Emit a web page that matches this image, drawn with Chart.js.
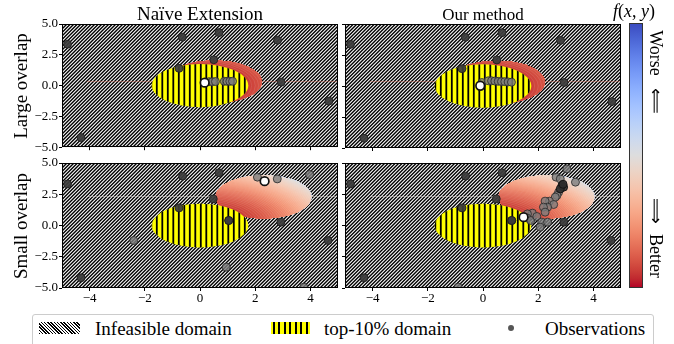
<!DOCTYPE html>
<html><head><meta charset="utf-8">
<script src="https://cdn.jsdelivr.net/npm/chart.js@4.4.1/dist/chart.umd.min.js"></script>
<style>
html,body{margin:0;padding:0;background:#fff;}
#wrap{position:relative;width:674px;height:344px;overflow:hidden;font-family:"Liberation Serif","Times New Roman",serif;color:#000;}
canvas{position:absolute;}
.t{position:absolute;white-space:nowrap;line-height:1;}
</style></head><body><div id="wrap">
<canvas id="c1" width="340" height="142" style="left:0;top:14px"></canvas>
<canvas id="c2" width="284" height="142" style="left:339px;top:14px"></canvas>
<canvas id="c3" width="340" height="159" style="left:0;top:153px"></canvas>
<canvas id="c4" width="284" height="159" style="left:339px;top:153px"></canvas>

<div class="t" style="left:200px;top:3.8px;font-size:19px;transform:translateX(-50%)">Naïve Extension</div>
<div class="t" style="left:483px;top:5.5px;font-size:17px;transform:translateX(-50%)">Our method</div>
<div class="t" style="left:634px;top:2px;font-size:18px;transform:translateX(-50%)"><i>f</i>(<i>x</i>, <i>y</i>)</div>
<div class="t" style="left:19.5px;top:86px;font-size:19px;transform:translate(-50%,-50%) rotate(-90deg)">Large overlap</div>
<div class="t" style="left:19.5px;top:225.5px;font-size:19px;transform:translate(-50%,-50%) rotate(-90deg)">Small overlap</div>

<div id="cbar" style="position:absolute;left:629px;top:23px;width:14px;height:265px;box-sizing:border-box;border:1px solid #333;"></div>
<div class="t" style="left:656px;top:53px;font-size:18px;transform:translate(-50%,-50%) rotate(90deg)">Worse</div>
<div class="t" style="left:656px;top:101px;font-size:18px;transform:translate(-50%,-50%) rotate(90deg)">⟸</div>
<div class="t" style="left:656px;top:211px;font-size:18px;transform:translate(-50%,-50%) rotate(90deg)">⟹</div>
<div class="t" style="left:656px;top:255.5px;font-size:18px;transform:translate(-50%,-50%) rotate(90deg)">Better</div>

<div style="position:absolute;left:32px;top:314px;width:622px;height:40px;box-sizing:border-box;border:1px solid #ccc;border-radius:3px;"></div>
<div style="position:absolute;left:39px;top:322px;width:41px;height:12px;background:repeating-linear-gradient(45deg,#000 0 1.2px,#fff 1.2px 2.3px);"></div>
<div class="t" style="left:95px;top:319px;font-size:19px">Infeasible domain</div>
<div style="position:absolute;left:271px;top:322px;width:39px;height:12px;background:repeating-linear-gradient(90deg,#ff0 0 1.9px,#000 1.9px 3.7px,#ff0 3.7px 5.5px);"></div>
<div class="t" style="left:324px;top:319px;font-size:19px">top-10% domain</div>
<div style="position:absolute;left:508px;top:325px;width:6px;height:6px;border-radius:50%;background:#555;"></div>
<div class="t" style="left:545px;top:319px;font-size:19px">Observations</div>
</div>
<script>
// ---------- data ----------
const xTickValues = [-4, -2, 0, 2, 4];
const yTickValues = [-5, -2.5, 0, 2.5, 5];
const axisMin = -5, axisMax = 5;

const top10Center = [0, 0];
const top10Radius = 1.75;
const largeOverlapCenter = [0.51, 0.31];
const smallOverlapCenter = [2.30, 2.29];
const feasibleRadius = 1.73;
// f(x,y) = x^2 + y^2, contour levels
const fMin = 0, fMax = 50, fStep = 0.5;

// initial observations
const largeInitX = [-4.80, -4.31, -0.64, 0.69, 0.50, -0.76, 2.81, 2.94, 4.67];
const largeInitY = [3.36, -4.22, 3.93, 4.30, 2.10, 1.40, 3.68, 0.28, -1.26];
const smallInitX = [-4.80, -4.31, -0.63, 0.69, 0.48, -0.76, 2.93, 4.64, 1.04, 1.04];
const smallInitY = [3.33, -4.18, 3.95, 4.22, 2.13, 1.41, 0.27, -1.20, 0.40, 0.40];

// queried observations
const naiveLargeQueryX = [0.33, 0.45, 0.56, 0.88, 0.98, 1.08, 1.18];
const naiveLargeQueryY = [0.32, 0.32, 0.33, 0.35, 0.35, 0.35, 0.35];
const naiveLargeBestX = [0.17];
const naiveLargeBestY = [0.24];

const oursLargeQueryX = [-0.04, 0.19, 0.31, 0.43, 0.55, 0.67, 0.79, 0.91, 1.03];
const oursLargeQueryY = [0.28, 0.42, 0.42, 0.40, 0.38, 0.36, 0.35, 0.33, 0.31];
const oursLargeBestX = [-0.10];
const oursLargeBestY = [0.02];

const naiveSmallQueryX = [2.08, 2.80, -2.40, 0.95, 3.76, 3.97];
const naiveSmallQueryY = [3.87, 3.73, -1.20, -3.33, -4.93, 4.08];
const naiveSmallBestX = [2.34];
const naiveSmallBestY = [3.55];

const oursSmallQueryX = [2.65, 2.80, 2.74, 2.68, 2.62, 2.41, 2.25, 2.56, 2.34, 2.19, 2.25, 1.79, 1.61, 1.59, 1.73, 1.95, 2.13, 2.34, 2.07, 3.04, 3.35, -0.90];
const oursSmallQueryY = [3.87, 3.73, 2.67, 2.40, 2.27, 1.95, 1.95, 1.68, 1.47, 1.47, 1.07, 0.99, 0.93, 0.61, 0.40, 0.72, 0.27, 0.27, -0.13, 4.53, 3.47, -4.93];
const oursSmallLateX = [2.86, 2.92, 2.80, 2.90];
const oursSmallLateY = [3.20, 3.07, 2.93, 3.30];
const oursSmallBestX = [1.47];
const oursSmallBestY = [0.67];

// ---------- colour map (coolwarm) ----------
const coolwarm = [[59,76,192],[68,90,204],[77,104,215],[87,117,225],[98,130,234],[108,142,241],[119,154,247],[130,165,251],[141,176,254],[152,185,255],[163,194,255],[174,201,253],[184,208,249],[194,213,244],[204,217,238],[213,219,230],[221,221,221],[229,216,209],[236,211,197],[241,204,185],[245,196,173],[247,187,160],[247,177,148],[247,166,135],[244,154,123],[241,141,111],[236,127,99],[229,112,88],[222,96,77],[213,80,66],[203,62,56],[192,40,47],[180,4,38]];
function cw(s, a) {
  s = Math.min(1, Math.max(0, s));
  const p = s * (coolwarm.length - 1), i = Math.min(coolwarm.length - 2, Math.floor(p)), t = p - i;
  const c = coolwarm[i].map((v, k) => Math.round(v + (coolwarm[i + 1][k] - v) * t));
  return a === undefined ? `rgb(${c})` : `rgba(${c},${a})`;
}
// colour bar gradient: bottom = better (red), top = worse (blue)
(function () {
  const stops = [];
  for (let k = 0; k <= 32; k++) stops.push(`${cw(1 - k / 32)} ${(k / 32 * 100).toFixed(2)}%`);
  document.getElementById('cbar').style.background = `linear-gradient(to top, ${stops.join(',')})`;
})();

// ---------- patterns ----------
function makeHatch() {
  const c = document.createElement('canvas'); c.width = c.height = 7;
  const g = c.getContext('2d');
  g.fillStyle = '#fff'; g.fillRect(0, 0, 7, 7);
  g.strokeStyle = '#000'; g.lineWidth = 1.4;
  for (let k = -2; k <= 6; k++) {
    const cc = k * 3.5;
    g.beginPath(); g.moveTo(-2, cc + 2); g.lineTo(cc + 2, -2); g.stroke();
  }
  return c;
}
function makeStripes() {
  const c = document.createElement('canvas'); c.width = 11; c.height = 4;
  const g = c.getContext('2d');
  g.fillStyle = '#000';
  g.fillRect(1.9, 0, 1.8, 4); g.fillRect(7.4, 0, 1.8, 4);
  return c;
}
const hatchCanvas = makeHatch(), stripeCanvas = makeStripes();

function regionPlugin(spec) {
  return {
    id: 'regions',
    beforeDatasetsDraw(chart) {
      const { ctx, chartArea: a, scales: { x, y } } = chart;
      const X = v => x.getPixelForValue(v), Y = v => y.getPixelForValue(v);
      const sx = X(1) - X(0), sy = Y(0) - Y(1);
      ctx.save();
      ctx.beginPath(); ctx.rect(a.left, a.top, a.right - a.left, a.bottom - a.top); ctx.clip();
      ctx.fillStyle = '#fff'; ctx.fillRect(a.left, a.top, a.right - a.left, a.bottom - a.top);
      ctx.fillStyle = ctx.createPattern(hatchCanvas, 'repeat');
      ctx.fillRect(a.left, a.top, a.right - a.left, a.bottom - a.top);
      // faint contour artefact line through the region centre
      ctx.strokeStyle = spec.lineColor; ctx.lineWidth = 1;
      const ly = Math.round(Y(spec.center[1] + 0.08)) + 0.5;
      ctx.beginPath(); ctx.moveTo(X(-4.1), ly); ctx.lineTo(a.right, ly); ctx.stroke();
      // objective contours inside the feasible region
      ctx.save();
      ctx.beginPath();
      ctx.ellipse(X(spec.center[0]), Y(spec.center[1]), feasibleRadius * sx, feasibleRadius * sy, 0, 0, Math.PI * 2);
      ctx.clip();
      const ox = X(0), oy = Y(0);
      for (let L = fMax; L > fMin; L -= fStep) {
        const r = Math.sqrt(L);
        ctx.beginPath(); ctx.ellipse(ox, oy, r * sx, r * sy, 0, 0, Math.PI * 2);
        ctx.fillStyle = cw(1 - (L - fStep / 2 - fMin) / (fMax - fMin));
        ctx.fill();
        ctx.strokeStyle = 'rgba(255,255,255,0.22)'; ctx.lineWidth = 0.5; ctx.stroke();
      }
      ctx.restore();
      // top-10% domain
      ctx.beginPath();
      ctx.ellipse(X(top10Center[0]), Y(top10Center[1]), top10Radius * sx, top10Radius * sy, 0, 0, Math.PI * 2);
      ctx.fillStyle = '#ffff00'; ctx.fill();
      ctx.fillStyle = ctx.createPattern(stripeCanvas, 'repeat'); ctx.fill();
      ctx.restore();
    },
    afterDatasetsDraw(chart) {
      const { ctx, chartArea: a } = chart;
      ctx.save();
      ctx.strokeStyle = '#000'; ctx.lineWidth = 1;
      ctx.strokeRect(Math.round(a.left) + 0.5, Math.round(a.top) + 0.5, Math.round(a.right - a.left) - 1, Math.round(a.bottom - a.top) - 1);
      ctx.restore();
    }
  };
}

Chart.defaults.font.family = '"Liberation Serif","Times New Roman",serif';
Chart.defaults.font.size = 13;
Chart.defaults.color = '#000';

const fmt = v => (v < 0 ? '\u2212' : '') + Math.abs(v);
const fmtY = v => (v < 0 ? '\u2212' : '') + Math.abs(v).toFixed(1);

function pts(xs, ys) { return xs.map((v, i) => ({ x: v, y: ys[i] })); }

function makePanel(p) {
  const datasets = [];
  datasets.push({ data: pts(p.best[0], p.best[1]), order: 0, clip: 0, pointRadius: 4.3, backgroundColor: '#ffffff', borderColor: '#111', borderWidth: 1.7 });
  if (p.late) datasets.push({ data: pts(p.late[0], p.late[1]), order: 1, clip: 0, pointRadius: 4, backgroundColor: 'rgba(45,45,45,0.9)', borderColor: 'rgba(20,20,20,0.95)', borderWidth: 1 });
  datasets.push({ data: pts(p.query[0], p.query[1]), order: 2, clip: 0, pointRadius: 4, backgroundColor: 'rgba(125,125,125,0.8)', borderColor: 'rgba(45,45,45,0.85)', borderWidth: 1 });
  datasets.push({ data: pts(p.init[0], p.init[1]), order: 3, clip: 0, pointRadius: 4, backgroundColor: 'rgba(60,60,60,0.93)', borderColor: 'rgba(25,25,25,0.95)', borderWidth: 0.8 });
  new Chart(document.getElementById(p.id), {
    type: 'scatter',
    data: { datasets },
    options: {
      responsive: false, animation: false, events: [],
      layout: { padding: { top: 10, right: 2, left: 0, bottom: 0 }, autoPadding: false },
      plugins: { legend: { display: false }, tooltip: { enabled: false } },
      scales: {
        x: {
          type: 'linear', min: axisMin, max: axisMax,
          afterBuildTicks: s => { s.ticks = xTickValues.map(v => ({ value: v })); },
          afterFit: s => { s.height = p.xLabels ? 24 : 8; },
          ticks: { display: p.xLabels, callback: fmt, padding: 0, maxRotation: 0, autoSkip: false },
          grid: { drawOnChartArea: false, drawTicks: true, tickLength: 3, color: '#000', lineWidth: 1 },
          border: { display: false }
        },
        y: {
          type: 'linear', min: axisMin, max: axisMax,
          afterBuildTicks: s => { s.ticks = yTickValues.map(v => ({ value: v })); },
          afterFit: s => { s.width = p.yLabels ? 62 : 6; },
          ticks: { display: p.yLabels, callback: fmtY, padding: 1, autoSkip: false },
          grid: { drawOnChartArea: false, drawTicks: true, tickLength: 3, color: '#000', lineWidth: 1 },
          border: { display: false }
        }
      }
    },
    plugins: [regionPlugin({ center: p.center, lineColor: p.lineColor })]
  });
}

makePanel({ id: 'c1', center: largeOverlapCenter, xLabels: false, yLabels: true, lineColor: 'rgba(230,120,100,0.4)',
  init: [largeInitX, largeInitY], query: [naiveLargeQueryX, naiveLargeQueryY], best: [naiveLargeBestX, naiveLargeBestY] });
makePanel({ id: 'c2', center: largeOverlapCenter, xLabels: false, yLabels: false, lineColor: 'rgba(230,120,100,0.4)',
  init: [largeInitX, largeInitY], query: [oursLargeQueryX, oursLargeQueryY], best: [oursLargeBestX, oursLargeBestY] });
makePanel({ id: 'c3', center: smallOverlapCenter, xLabels: true, yLabels: true, lineColor: 'rgba(235,228,224,0.45)',
  init: [smallInitX, smallInitY], query: [naiveSmallQueryX, naiveSmallQueryY], best: [naiveSmallBestX, naiveSmallBestY] });
makePanel({ id: 'c4', center: smallOverlapCenter, xLabels: true, yLabels: false, lineColor: 'rgba(235,228,224,0.45)',
  init: [smallInitX, smallInitY], query: [oursSmallQueryX, oursSmallQueryY], late: [oursSmallLateX, oursSmallLateY], best: [oursSmallBestX, oursSmallBestY] });
</script>
</body></html>
